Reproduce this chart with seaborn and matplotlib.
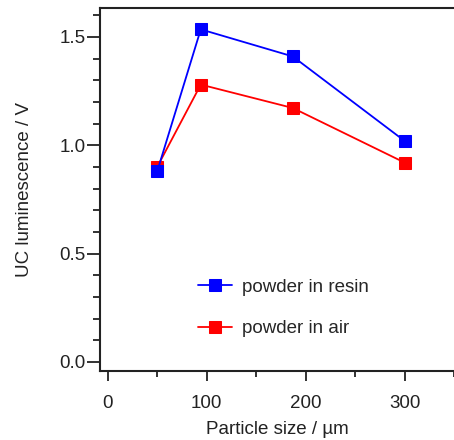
import matplotlib
matplotlib.use("Agg")
import matplotlib.pyplot as plt
from matplotlib.ticker import MultipleLocator
import seaborn as sns
import pandas as pd

particle_size = [50, 94, 187, 300]
resin_values = [0.88, 1.535, 1.41, 1.02]
air_values = [0.90, 1.28, 1.172, 0.92]
series_names = ["powder in resin", "powder in air"]
series_colors = ["#0000ff", "#ff0000"]

df = pd.DataFrame({
    "size": particle_size * 2,
    "lum": resin_values + air_values,
    "series": [series_names[0]] * 4 + [series_names[1]] * 4,
})

sns.set_theme(style="ticks")
plt.rcParams["font.family"] = ["Liberation Sans", "DejaVu Sans"]

fig = plt.figure(figsize=(4.54, 4.40), dpi=100)
ax = fig.add_axes([0.22, 0.157, 0.78, 0.825])

# draw air first so resin markers sit on top
for name, color in list(zip(series_names, series_colors))[::-1]:
    sub = df[df["series"] == name]
    sns.lineplot(data=sub, x="size", y="lum", ax=ax, color=color,
                 marker="s", markersize=9, markeredgecolor=color,
                 linewidth=1.3, label=name, legend=False)

ax.set_xlim(-8, 350)
ax.set_ylim(-0.042, 1.634)
ax.xaxis.set_major_locator(MultipleLocator(100))
ax.xaxis.set_minor_locator(MultipleLocator(50))
ax.yaxis.set_major_locator(MultipleLocator(0.5))
ax.yaxis.set_minor_locator(MultipleLocator(0.1))
ax.yaxis.set_major_formatter(plt.FuncFormatter(lambda v, p: f"{v:.1f}"))

for s in ["left", "bottom", "top"]:
    ax.spines[s].set_linewidth(1.5)
    ax.spines[s].set_color("#222222")
ax.spines["right"].set_visible(False)

ax.tick_params(axis="both", which="both", width=1.3, color="#222222",
               labelsize=13.5, labelcolor="#222222")
ax.tick_params(axis="y", which="major", length=9.5, pad=1)
ax.tick_params(axis="y", which="minor", length=5)
ax.tick_params(axis="x", which="major", length=7.5, pad=10)
ax.tick_params(axis="x", which="minor", length=4.5)

ax.set_xlabel("Particle size / µm", fontsize=13.5, color="#222222", labelpad=6)
ax.set_ylabel("UC luminescence / V", fontsize=13.5, color="#222222", labelpad=19)

handles, labels = ax.get_legend_handles_labels()
order = [labels.index(n) for n in series_names]
ax.legend([handles[i] for i in order], [labels[i] for i in order],
          loc="center left", bbox_to_anchor=(0.23, 0.173), frameon=False,
          fontsize=13.5, handlelength=1.8, labelspacing=1.3, handletextpad=0.55,
          markerscale=0.9)

fig.savefig("out.png", dpi=100)
